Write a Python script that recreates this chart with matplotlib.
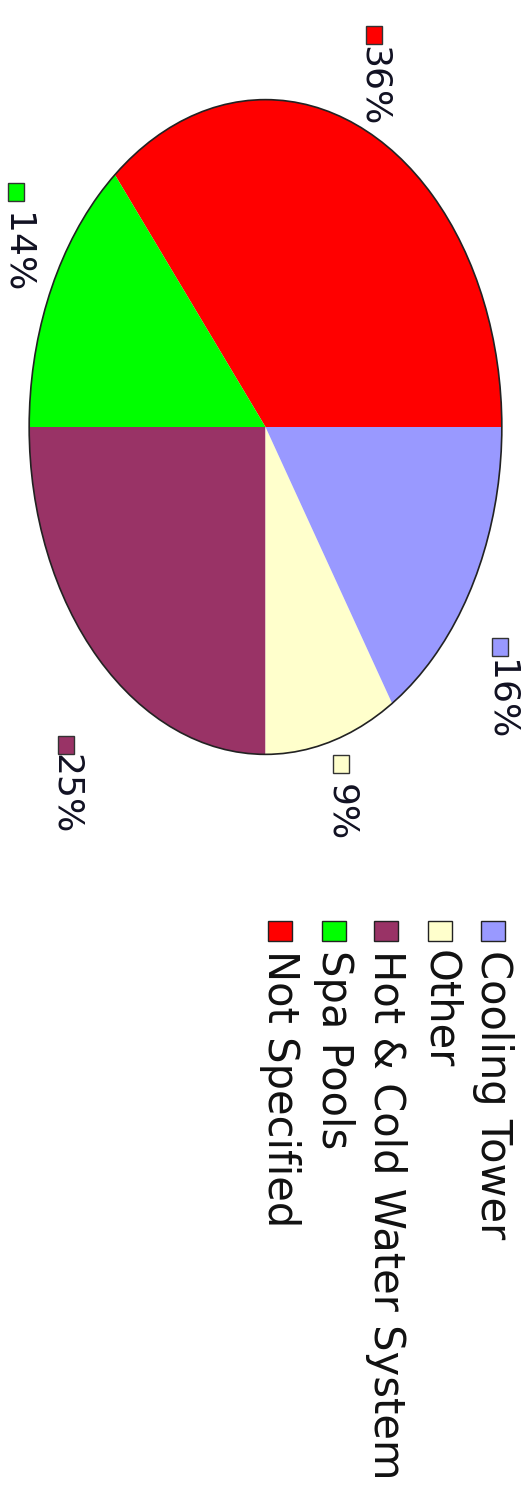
import matplotlib.pyplot as plt
from matplotlib.patches import Rectangle, Ellipse

# slices, counter-clockwise from the right edge of the (rotated) pie
categories = ['Not Specified', 'Spa Pools', 'Hot & Cold Water System', 'Other', 'Cooling Tower']
shares = [36, 14, 25, 9, 16]
colors = ['#FF0000', '#00FF00', '#993366', '#FFFFCC', '#9999FF']

# legend order as printed
legend_order = ['Cooling Tower', 'Other', 'Hot & Cold Water System', 'Spa Pools', 'Not Specified']

W, H = 523, 1506
fig = plt.figure(figsize=(W / 100, H / 100), dpi=100)

# pie axes stretched over the ellipse's bounding box (pixels 28..503, 98..756)
x0, x1, y0, y1 = 28, 503, 98, 756
ax = fig.add_axes([x0 / W, 1 - y1 / H, (x1 - x0) / W, (y1 - y0) / H])
ax.pie(shares, colors=colors, startangle=0, counterclock=True,
       wedgeprops=dict(linewidth=0))
ax.add_patch(Ellipse((0, 0), 2, 2, fill=False, edgecolor='#222222', linewidth=1.2))
ax.set_aspect('auto')
ax.set_xlim(-1.005, 1.005)
ax.set_ylim(-1.005, 1.005)
ax.axis('off')

# overlay in pixel coordinates for labels and legend
ov = fig.add_axes([0, 0, 1, 1])
ov.set_xlim(0, W)
ov.set_ylim(H, 0)
ov.axis('off')

# percentage labels: (x centre, square top, text top)
label_pos = {
    'Not Specified': (374, 26, 46),
    'Spa Pools': (16, 183, 213),
    'Hot & Cold Water System': (66, 736, 754),
    'Other': (341, 755, 784),
    'Cooling Tower': (500, 638, 660),
}
for cat, val, col in zip(categories, shares, colors):
    x, sq, ty = label_pos[cat]
    ov.add_patch(Rectangle((x - 8, sq), 16, 18, facecolor=col,
                           edgecolor='#333333', linewidth=1))
    ov.text(x, ty, f'{val}%', rotation=-90, ha='center', va='top',
            fontsize=26, color='#111122')

# legend
leg_x = [493, 440, 386, 334, 280]
for x, name in zip(leg_x, legend_order):
    col = colors[categories.index(name)]
    ov.add_patch(Rectangle((x - 12, 921), 24, 20, facecolor=col,
                           edgecolor='#222222', linewidth=1))
    ov.text(x, 950, name, rotation=-90, ha='center', va='top',
            fontsize=30, color='#111111')

fig.savefig('out.png', dpi=100)
